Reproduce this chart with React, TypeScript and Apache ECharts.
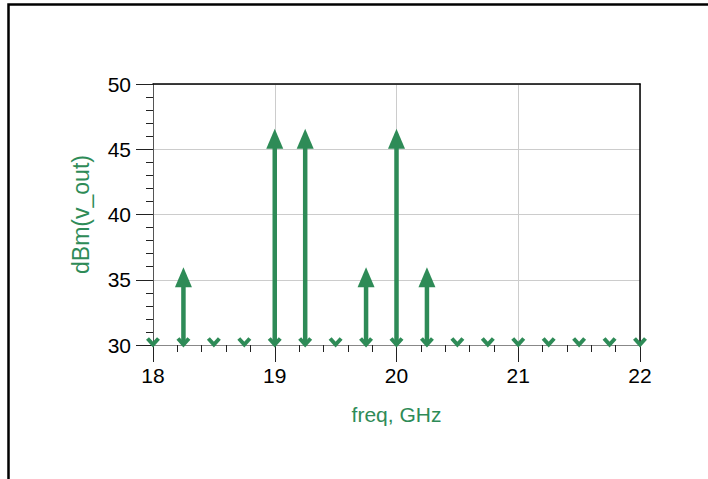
import React, { useEffect, useRef } from "react";
import * as echarts from "echarts";

const GREEN = "#2E8B57";

// Spectrum lines (freq in GHz, power in dBm). Lines at or below the axis floor are shown at 30.
const freqGHz = [18, 18.25, 18.5, 18.75, 19, 19.25, 19.5, 19.75, 20, 20.25, 20.5, 20.75, 21, 21.25, 21.5, 21.75, 22];
const powerDbm = [30, 35.2, 30, 30, 45.8, 45.8, 30, 35.2, 45.8, 35.2, 30, 30, 30, 30, 30, 30, 30];

const X_MIN = 18;
const X_MAX = 22;
const X_STEP = 1;
const Y_MIN = 30;
const Y_MAX = 50;
const Y_STEP = 5;

const xTitle = "freq, GHz";
const yTitle = "dBm(v_out)";

const FONT = "'Liberation Sans', Arial, Helvetica, sans-serif";

export default function App() {
  const ref = useRef<HTMLDivElement>(null);

  useEffect(() => {
    document.body.style.margin = "0";
    if (!ref.current) return;
    const chart = echarts.init(ref.current, null, { renderer: "svg" });

    const data = freqGHz.map((f, i) => [f, powerDbm[i]]);

    const option: any = {
      animation: false,
      backgroundColor: "#ffffff",
      textStyle: { fontFamily: FONT },
      graphic: [
        {
          type: "rect",
          shape: { x: 8.5, y: 4.5, width: 760, height: 520 },
          style: { fill: "none", stroke: "#000", lineWidth: 2.5 },
          silent: true,
        },
      ],
      grid: { left: 153, right: 68, top: 84, bottom: 134, containLabel: false },
      xAxis: [
        {
          type: "value",
          min: X_MIN,
          max: X_MAX,
          interval: X_STEP,
          position: "bottom",
          name: xTitle,
          nameLocation: "middle",
          nameGap: 59,
          nameTextStyle: { color: GREEN, fontSize: 21, fontFamily: FONT },
          axisLine: { show: true, lineStyle: { color: "#888", width: 1 } },
          axisTick: { show: true, length: 17, lineStyle: { color: "#222", width: 1 } },
          minorTick: { show: true, splitNumber: 5, length: 7, lineStyle: { color: "#222", width: 1 } },
          axisLabel: { color: "#000", fontSize: 21, margin: 20, fontFamily: FONT },
          splitLine: { show: true, lineStyle: { color: "#cccccc", width: 1 } },
        },
        {
          type: "value",
          min: X_MIN,
          max: X_MAX,
          interval: X_STEP,
          position: "top",
          axisLine: { show: true, lineStyle: { color: "#000", width: 1.5 } },
          axisTick: { show: false },
          axisLabel: { show: false },
          splitLine: { show: false },
        },
      ],
      yAxis: [
        {
          type: "value",
          min: Y_MIN,
          max: Y_MAX,
          interval: Y_STEP,
          position: "left",
          name: yTitle,
          nameLocation: "middle",
          nameGap: 61,
          nameTextStyle: { color: GREEN, fontSize: 23, fontFamily: FONT },
          axisLine: { show: true, lineStyle: { color: "#555", width: 1 } },
          axisTick: { show: true, length: 17, lineStyle: { color: "#222", width: 1 } },
          minorTick: { show: true, splitNumber: 5, length: 7, lineStyle: { color: "#222", width: 1 } },
          axisLabel: { color: "#000", fontSize: 21, margin: 22, fontFamily: FONT },
          splitLine: { show: true, lineStyle: { color: "#cccccc", width: 1 } },
        },
        {
          type: "value",
          min: Y_MIN,
          max: Y_MAX,
          interval: Y_STEP,
          position: "right",
          axisLine: { show: true, lineStyle: { color: "#000", width: 1.5 } },
          axisTick: { show: false },
          axisLabel: { show: false },
          splitLine: { show: false },
        },
      ],
      series: [
        {
          type: "custom",
          xAxisIndex: 0,
          yAxisIndex: 0,
          clip: false,
          data,
          renderItem: (params: any, api: any) => {
            const x = api.value(0);
            const v = api.value(1);
            const base = api.coord([x, Y_MIN]);
            const top = api.coord([x, v]);
            const children: any[] = [];
            if (v > Y_MIN) {
              children.push({
                type: "line",
                shape: { x1: base[0], y1: base[1] - 2, x2: top[0], y2: top[1] + 8 },
                style: { stroke: GREEN, lineWidth: 4.5 },
              });
              children.push({
                type: "polygon",
                shape: {
                  points: [
                    [top[0], top[1] - 10],
                    [top[0] - 8.5, top[1] + 10],
                    [top[0] + 8.5, top[1] + 10],
                  ],
                },
                style: { fill: GREEN },
              });
            }
            children.push({
              type: "polyline",
              shape: {
                points: [
                  [base[0] - 5.5, base[1] - 6.5],
                  [base[0], base[1] - 0.5],
                  [base[0] + 5.5, base[1] - 6.5],
                ],
              },
              style: { stroke: GREEN, lineWidth: 4, fill: "none", lineJoin: "miter" },
            });
            return { type: "group", children };
          },
        },
      ],
    };

    chart.setOption(option);
    return () => {
      chart.dispose();
    };
  }, []);

  return (
    <div
      ref={ref}
      style={{ position: "absolute", left: 0, top: 0, width: 708, height: 479 }}
    />
  );
}
